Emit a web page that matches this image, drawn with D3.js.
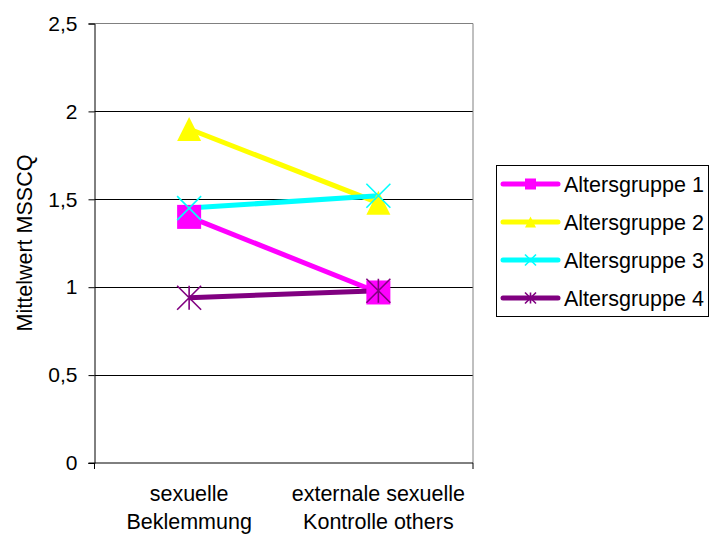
<!DOCTYPE html>
<html><head><meta charset="utf-8">
<script src="https://cdn.jsdelivr.net/npm/d3@7"></script>
<style>body{margin:0;background:#fff}svg{display:block}text{font-family:"Liberation Sans",Arial,sans-serif}</style>
</head><body>
<svg id="c" width="709" height="534"></svg>
<script>
const categories = [["sexuelle","Beklemmung"],["externale sexuelle","Kontrolle others"]];
const seriesNames = ["Altersgruppe 1","Altersgruppe 2","Altersgruppe 3","Altersgruppe 4"];
const group1 = [1.40, 0.97];
const group2 = [1.90, 1.48];
const group3 = [1.45, 1.52];
const group4 = [0.94, 0.98];
const yTicks = [0, 0.5, 1, 1.5, 2, 2.5];
const yTickLabels = ["0","0,5","1","1,5","2","2,5"];
const colors = ["#ff00ff","#ffff00","#00ffff","#800080"];
const markers = ["square","triangle","x","star"];
const seriesValues = [group1, group2, group3, group4];

const FONT = "Liberation Sans, Arial, sans-serif";
const svg = d3.select("#c");
const L = 94.5, R = 473, T = 23.5, B = 463;
const x = d3.scaleBand().domain([0,1]).range([L, R]);
const y = d3.scaleLinear().domain([0, 2.5]).range([B, T]);

// gridlines
svg.append("g").selectAll("line").data(yTicks.filter(d => d > 0 && d < 2.5)).join("line")
  .attr("x1", L).attr("x2", R).attr("y1", d => Math.round(y(d)) + 0.5).attr("y2", d => Math.round(y(d)) + 0.5)
  .attr("stroke", "#000").attr("stroke-width", 1);
// plot border top/right gray
svg.append("path").attr("d", `M${L},${T}H${R}V${B}`).attr("fill","none").attr("stroke","#808080").attr("stroke-width",1);

// y axis
const yAxis = d3.axisLeft(y).tickValues(yTicks).tickFormat((d,i) => yTickLabels[i]).tickSize(6).tickPadding(11);
const gy = svg.append("g").attr("transform", `translate(${L},0)`).call(yAxis);
gy.attr("font-size", null).attr("font-family", null);
gy.select(".domain").attr("stroke","#000");
gy.selectAll(".tick line").attr("stroke","#000");
gy.selectAll(".tick text").attr("font-size", 21).attr("fill","#000").attr("font-family", FONT);
// x axis
svg.append("line").attr("x1", L - 6).attr("x2", R).attr("y1", B).attr("y2", B).attr("stroke","#000");
svg.append("line").attr("x1", R).attr("x2", R).attr("y1", B).attr("y2", B + 6).attr("stroke","#000");
svg.append("line").attr("x1", L).attr("x2", L).attr("y1", B).attr("y2", B + 6).attr("stroke","#000");
categories.forEach((c, i) => {
  const t = svg.append("text").attr("text-anchor","middle").attr("font-size",21.5).attr("fill","#000").attr("font-family", FONT);
  c.forEach((line, j) => t.append("tspan").attr("x", x(i) + x.bandwidth()/2).attr("y", 501 + j*28).text(line));
});
// y title
svg.append("text").attr("transform", "translate(32,243) rotate(-90)").attr("text-anchor","middle")
  .attr("font-size",21.5).attr("fill","#000").attr("font-family", FONT).text("Mittelwert MSSCQ");

function drawMarker(g, type, color, cx, cy, s) {
  if (type === "square") {
    g.append("rect").attr("x", cx - s/2).attr("y", cy - s/2).attr("width", s).attr("height", s).attr("fill", color);
  } else if (type === "triangle") {
    g.append("path").attr("d", `M${cx},${cy - s/2}L${cx + s/2},${cy + s/2}L${cx - s/2},${cy + s/2}Z`).attr("fill", color);
  } else if (type === "x") {
    g.append("path").attr("d", `M${cx - s/2},${cy - s/2}L${cx + s/2},${cy + s/2}M${cx + s/2},${cy - s/2}L${cx - s/2},${cy + s/2}`)
      .attr("stroke", color).attr("stroke-width", 1.6);
  } else {
    g.append("path").attr("d", `M${cx - s/2},${cy - s/2}L${cx + s/2},${cy + s/2}M${cx + s/2},${cy - s/2}L${cx - s/2},${cy + s/2}M${cx},${cy - s/2}V${cy + s/2}`)
      .attr("stroke", color).attr("stroke-width", 1.6);
  }
}

const line = d3.line().x((d, i) => x(i) + x.bandwidth()/2).y(d => y(d));
const plot = svg.append("g");
seriesValues.forEach((vals, k) => {
  plot.append("path").datum(vals).attr("d", line).attr("fill","none").attr("stroke", colors[k]).attr("stroke-width", 5);
});
seriesValues.forEach((vals, k) => {
  vals.forEach((v, i) => drawMarker(plot, markers[k], colors[k], x(i) + x.bandwidth()/2, y(v), 24));
});

// legend
const lg = svg.append("g");
lg.append("rect").attr("x", 496.5).attr("y", 165.5).attr("width", 212).attr("height", 151).attr("fill","#fff").attr("stroke","#000");
const ly = d3.scalePoint().domain(seriesNames).range([184, 298]);
seriesNames.forEach((n, k) => {
  const yy = ly(n);
  lg.append("line").attr("x1", 503).attr("x2", 558).attr("y1", yy).attr("y2", yy).attr("stroke", colors[k]).attr("stroke-width", 5).attr("stroke-linecap","round");
  drawMarker(lg, markers[k], colors[k], 530.5, yy, 11);
  lg.append("text").attr("x", 564).attr("y", yy + 8).attr("font-size", 21.5).attr("fill","#000").attr("font-family", FONT).text(n);
});
</script>
</body></html>
